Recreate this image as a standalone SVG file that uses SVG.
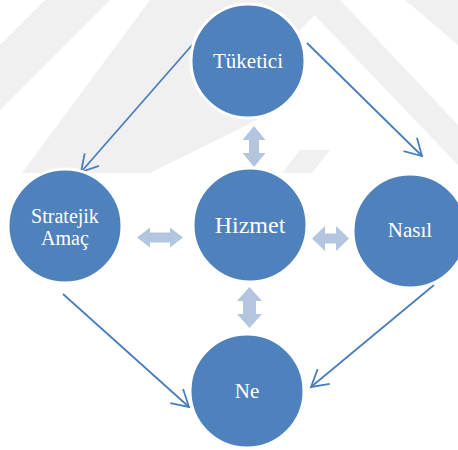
<svg xmlns="http://www.w3.org/2000/svg" width="458" height="450" viewBox="0 0 458 450">
  <style>
    .node { fill: #4F81BD; stroke: #FFFFFF; stroke-width: 3; }
    .label { font-family: 'Liberation Serif', 'DejaVu Serif', 'Times New Roman', serif; font-size: 21px; fill: #FFFFFF; text-anchor: middle; }
    .big { font-size: 24px; }
    .two { font-size: 20px; }
    .link { stroke: #4A7EBB; stroke-width: 1.8; fill: none; marker-end: url(#openHead); }
    .dbl { fill: #B4C5E0; }
    .mark { fill: #F0F0F0; }
  </style>
  <defs>
    <marker id="openHead" markerUnits="userSpaceOnUse" markerWidth="24" markerHeight="24" viewBox="-20 -12 24 24" refX="0" refY="0" orient="auto">
      <path d="M -16.5 -9.5 L 0 0 L -16.5 9.5" fill="none" stroke="#4A7EBB" stroke-width="1.8"/>
    </marker>
  </defs>

  <!-- faint background mark -->
  <g id="backdrop">
    <polygon class="mark" points="45,0 110,0 0,110 0,45"/>
    <polygon class="mark" points="150,0 330,0 270,60 257,120 150,173 22,173"/>
    <polygon class="mark" points="300,150 330,150 312,173 282,173"/>
    <polygon class="mark" points="300,0 340,0 458,125 458,165"/>
    <polygon class="mark" points="405,0 458,0 458,45"/>
  </g>

  <!-- thin directed links -->
  <g id="connectors">
    <line class="link" x1="193" y1="44" x2="81" y2="172"/>
    <line class="link" x1="307" y1="43" x2="422" y2="156"/>
    <line class="link" x1="63" y1="294" x2="189" y2="407"/>
    <line class="link" x1="434" y1="285" x2="311" y2="387"/>
    <!-- two-way block arrows around the centre -->
    <polygon class="dbl" points="254,126 265.5,140 259,140 259,153 265.5,153 254,167 242.5,153 249,153 249,140 242.5,140"/>
    <polygon class="dbl" points="137,237.5 150,227.5 150,232.5 170,232.5 170,227.5 183,237.5 170,247.5 170,242.5 150,242.5 150,247.5"/>
    <polygon class="dbl" points="312,238.5 325,226 325,233.5 336,233.5 336,226 349,238.5 336,251 336,243.5 325,243.5 325,251"/>
    <polygon class="dbl" points="249.5,287 262,301 256,301 256,314 262,314 249.5,328 237,314 243,314 243,301 237,301"/>
  </g>

  <g id="tuketici">
    <circle class="node" cx="248" cy="61" r="57"/>
    <text class="label" x="248" y="68">Tüketici</text>
  </g>
  <g id="stratejik-amac">
    <circle class="node" cx="65" cy="226" r="57"/>
    <text class="label two" x="65" y="223">Stratejik</text>
    <text class="label two" x="65" y="245">Amaç</text>
  </g>
  <g id="hizmet">
    <circle class="node" cx="250" cy="225" r="57"/>
    <text class="label big" x="250" y="233">Hizmet</text>
  </g>
  <g id="nasil">
    <circle class="node" cx="410" cy="231" r="57"/>
    <text class="label" x="410" y="237">Nasıl</text>
  </g>
  <g id="ne">
    <circle class="node" cx="247" cy="391" r="57"/>
    <text class="label" x="247" y="398">Ne</text>
  </g>
</svg>
